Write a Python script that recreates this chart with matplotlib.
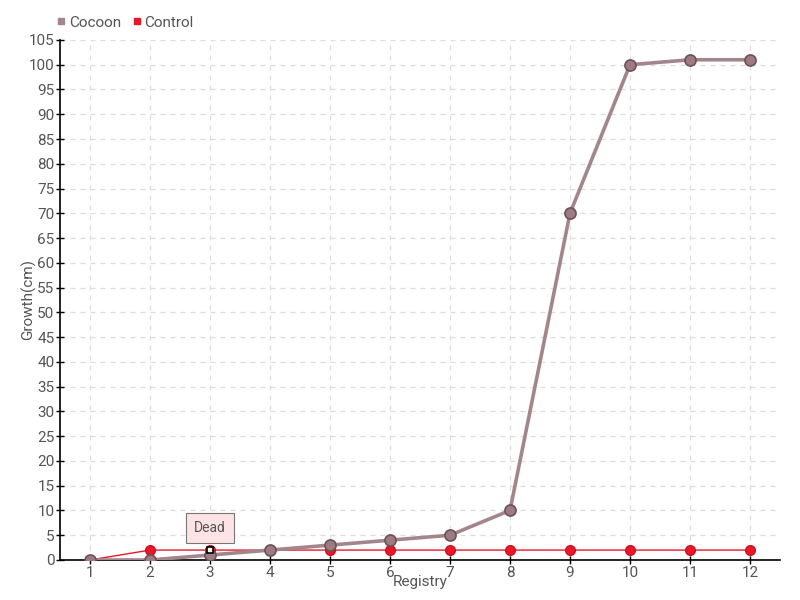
import matplotlib.pyplot as plt
from matplotlib.lines import Line2D

registry = [1, 2, 3, 4, 5, 6, 7, 8, 9, 10, 11, 12]
cocoon = [0, 0, 1, 2, 3, 4, 5, 10, 70, 100, 101, 101]
control = [0, 2, 2, 2, 2, 2, 2, 2, 2, 2, 2, 2]
y_ticks = list(range(0, 106, 5))

plt.rcParams['font.family'] = ['Roboto', 'DejaVu Sans']
text_col = '#555555'

fig = plt.figure(figsize=(8, 6), dpi=100)
ax = fig.add_axes([0.075, 0.0667, 0.9, 0.8667])

# control series: thin red line
ax.plot(registry, control, color='#e8182b', linewidth=1, marker='o',
        markersize=7, markerfacecolor='#e8182b', markeredgecolor='#d01020',
        zorder=3)
# cocoon series: thick rose line
ax.plot(registry, cocoon, color='#a3868b', linewidth=2.6, marker='o',
        markersize=8, markerfacecolor='#9c7b81', markeredgecolor='#6e5157',
        markeredgewidth=1.2, zorder=4)

# dead marker on the control series at registry 3
ax.plot(registry[2], control[2], marker='s', markersize=5,
        markerfacecolor='white', markeredgecolor='black',
        markeredgewidth=1.2, zorder=6)
ax.annotate('Dead', xy=(registry[2], control[2]), xytext=(0, 16),
            textcoords='offset points', ha='center', va='center',
            fontsize=10, color=text_col,
            bbox=dict(boxstyle='square,pad=0.6', facecolor='#fde3e5',
                      edgecolor='#777777', linewidth=0.8),
            zorder=7)

ax.set_xlim(0.5, 12.5)
ax.set_ylim(0, 105)
ax.set_xticks(registry)
ax.set_yticks(y_ticks)
ax.tick_params(axis='both', colors='black', labelcolor=text_col,
               labelsize=11, direction='inout', length=6, width=1, pad=1)

ax.grid(True, color='#dddddd', linestyle=(0, (4, 4)), linewidth=0.9)
ax.set_axisbelow(True)
for side in ['top', 'right']:
    ax.spines[side].set_visible(False)
ax.spines['left'].set_linewidth(1.2)
ax.spines['bottom'].set_linewidth(1.2)

ax.set_xlabel('Registry', fontsize=11, color=text_col, labelpad=-3)
ax.set_ylabel('Growth(cm)', fontsize=11, color=text_col)
ax.yaxis.set_label_coords(-0.033, 0.5)

handles = [
    Line2D([], [], linestyle='none', marker='s', markersize=5,
           color='#a3868b', label='Cocoon'),
    Line2D([], [], linestyle='none', marker='s', markersize=5,
           color='#e8182b', label='Control'),
]
fig.legend(handles=handles, loc='upper left', bbox_to_anchor=(0.052, 0.997),
           ncol=2, frameon=False, fontsize=11, handletextpad=0.1,
           columnspacing=0.6, handlelength=0.8, labelcolor=text_col)

fig.savefig('out.png', dpi=100)
